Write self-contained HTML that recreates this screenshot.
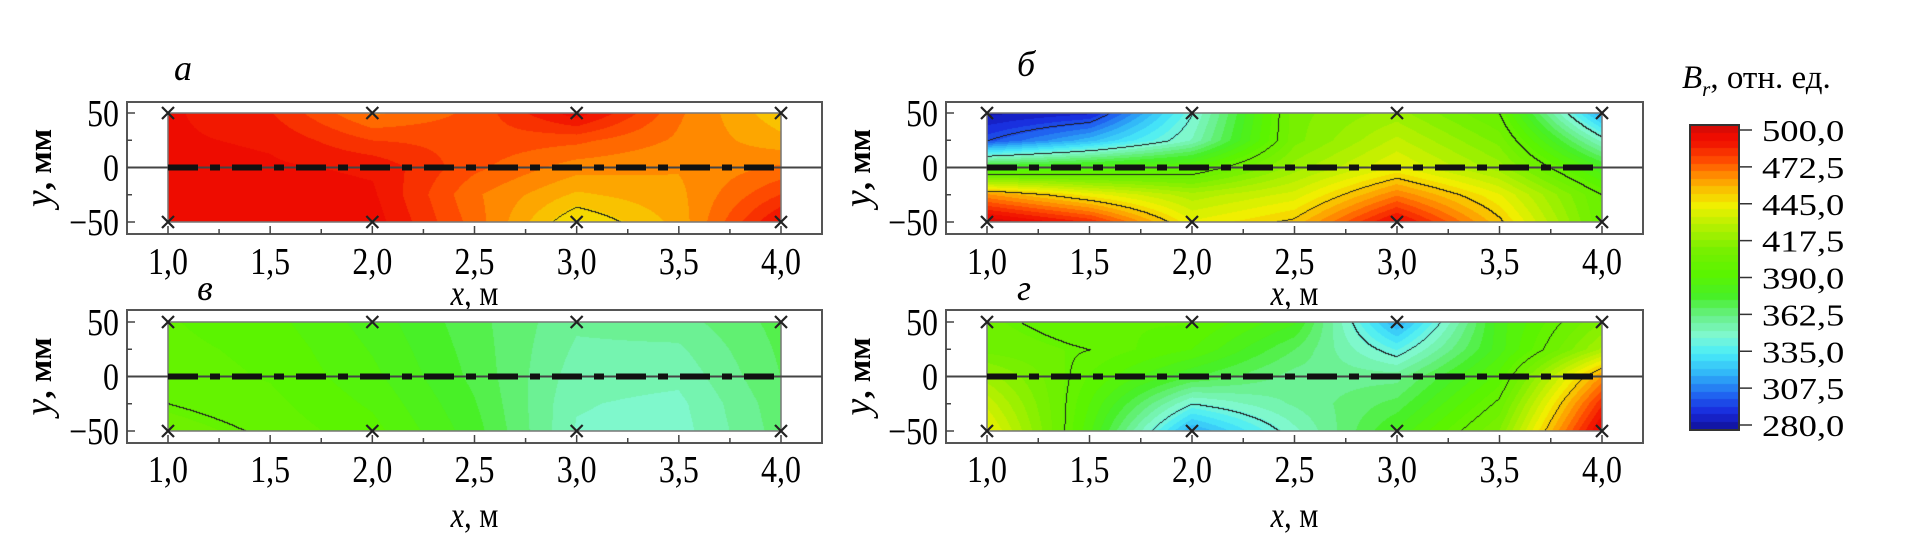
<!DOCTYPE html>
<html><head><meta charset="utf-8"><style>
html,body{margin:0;padding:0;background:#fff;}
#root{position:relative;width:1910px;height:551px;overflow:hidden;font-family:"Liberation Serif",serif;}
canvas{position:absolute;}
svg{position:absolute;left:0;top:0;}
</style></head><body>
<div id="root">
<canvas id="cA"></canvas>
<canvas id="cB"></canvas>
<canvas id="cV"></canvas>
<canvas id="cG"></canvas>
<canvas id="cBar"></canvas>
<svg id="ov" width="1910" height="551"></svg>
</div>
<script>
const xs = [1, 1.5, 2, 2.5, 3, 3.5, 4];
const ys = [50, 25, 0, -25, -50];
const xTicks = ["1,0","1,5","2,0","2,5","3,0","3,5","4,0"];
const yTicks = ["50","0","−50"];
const cbTicks = ["500,0","472,5","445,0","417,5","390,0","362,5","335,0","307,5","280,0"];
const contourLevels = [300, 345, 400, 450];
const fieldA = [
 [490,484,466,474,492,468,452],
 [490,488,478,476,474,466,458],
 [492,490,488,474,464,462,468],
 [492,492,490,468,455,460,478],
 [492,492,492,470,444,458,490]];
const fieldB = [
 [284,290,345,410,420,400,318],
 [300,322,352,410,430,410,350],
 [380,386,392,420,440,420,380],
 [462,442,425,436,466,440,400],
 [500,482,440,452,492,452,402]];
const fieldV = [
 [396,392,382,370,358,360,370],
 [397,394,384,371,356,356,369],
 [398,395,386,372,354,353,368],
 [400,397,389,374,352,350,366],
 [403,399,392,376,351,349,365]];
const fieldG = [
 [402,396,396,380,318,382,412],
 [404,400,390,368,340,382,424],
 [420,395,374,360,360,392,462],
 [432,390,345,358,370,402,482],
 [442,386,318,350,380,412,497]];

const stops=[[280,[16,16,150]],[292,[24,40,220]],[305,[32,100,240]],[320,[48,180,248]],[335,[72,236,248]],[348,[128,248,208]],[362,[104,240,136]],[376,[72,240,40]],[392,[90,244,0]],[410,[120,240,0]],[428,[184,240,0]],[442,[240,240,0]],[452,[248,200,0]],[462,[255,150,0]],[474,[255,80,0]],[488,[240,16,0]],[496,[236,8,0]],[500,[176,16,16]]];
function cmap(v){v=Math.max(280,Math.min(500,v));for(let i=1;i<stops.length;i++){if(v<=stops[i][0]){const a=stops[i-1],b=stops[i];const t=(v-a[0])/(b[0]-a[0]);return a[1].map((c,k)=>Math.round(c+(b[1][k]-c)*t));}}return stops[stops.length-1][1];}
function interp(f,x,y){
 let i=0;while(i<xs.length-2&&x>xs[i+1])i++;
 let j=0;while(j<ys.length-2&&y<ys[j+1])j++;
 const tx=(x-xs[i])/(xs[i+1]-xs[i]),ty=(y-ys[j])/(ys[j+1]-ys[j]);
 const a=f[j][i],b=f[j][i+1],c=f[j+1][i],d=f[j+1][i+1];
 return a*(1-tx)*(1-ty)+b*tx*(1-ty)+c*(1-tx)*ty+d*tx*ty;}
function levelOf(v){let n=0;for(const c of contourLevels)if(v>=c)n++;return n;}
function drawField(id,f,L,R,T,B){
 const cv=document.getElementById(id);const w=R-L,h=B-T;
 cv.width=w;cv.height=h;cv.style.left=L+'px';cv.style.top=T+'px';
 const ctx=cv.getContext('2d');const img=ctx.createImageData(w,h);
 const q=[],lv=[];
 for(let py=0;py<h;py++)for(let px=0;px<w;px++){
  const x=1+3*px/(w-1),y=50-100*py/(h-1);const v=interp(f,x,y);
  const qv=Math.floor((v-280)/5.5)*5.5+282.75;q.push(qv);lv.push(levelOf(v));}
 for(let py=0;py<h;py++)for(let px=0;px<w;px++){
  const k=py*w+px;let col=cmap(q[k]);
  if((px>0&&lv[k-1]!==lv[k])||(py>0&&lv[k-w]!==lv[k]))col=[30,30,30];
  img.data[k*4]=col[0];img.data[k*4+1]=col[1];img.data[k*4+2]=col[2];img.data[k*4+3]=255;}
 ctx.putImageData(img,0,0);}
(function(){const cv=document.getElementById('cBar');const L=1690,R=1739,T=125,B=430;cv.width=R-L;cv.height=B-T;cv.style.left=L+'px';cv.style.top=T+'px';
 const ctx=cv.getContext('2d');for(let py=0;py<B-T;py++){const v=500-220*py/(B-T-1);const qv=Math.floor((v-280)/5.5)*5.5+282.75;const c=cmap(qv);ctx.fillStyle=`rgb(${c})`;ctx.fillRect(0,py,R-L,1);}})();

const NS='http://www.w3.org/2000/svg';const ov=document.getElementById('ov');
function el(t,a,txt){const e=document.createElementNS(NS,t);for(const k in a)e.setAttribute(k,a[k]);if(txt!==undefined)e.textContent=txt;ov.appendChild(e);return e;}
function stext(x,y,size,sx,anchor,txt){return el('text',{x:0,y:0,'font-size':size,'text-anchor':anchor,transform:`translate(${x} ${y}) scale(${sx} 1)`},txt);}
const panels=[
 {id:'cA',f:fieldA,fl:127,fr:822,ft:102,fb:234,dl:168,dr:781,y50:113,ym50:222,lab:'а',lx:183,ly:80,tky:274,tty:305,name:'panel-a'},
 {id:'cB',f:fieldB,fl:946,fr:1643,ft:102,fb:234,dl:987,dr:1602,y50:113,ym50:222,lab:'б',lx:1026,ly:76,tky:274,tty:305,name:'panel-b'},
 {id:'cV',f:fieldV,fl:127,fr:822,ft:310,fb:443,dl:168,dr:781,y50:322,ym50:431,lab:'в',lx:205,ly:300,tky:482,tty:527,name:'panel-v'},
 {id:'cG',f:fieldG,fl:946,fr:1643,ft:310,fb:443,dl:987,dr:1602,y50:322,ym50:431,lab:'г',lx:1024,ly:300,tky:482,tty:527,name:'panel-g'}];
panels.forEach(p=>{
 drawField(p.id,p.f,p.dl,p.dr,p.y50,p.ym50);
 const sx=x=>p.dl+(x-1)*(p.dr-p.dl)/3, sy=y=>p.y50+(50-y)*(p.ym50-p.y50)/100;
 let e=el('rect',{x:p.fl,y:p.ft,width:p.fr-p.fl,height:p.fb-p.ft,fill:'none',stroke:'#555','stroke-width':2});
 
 
 el('rect',{x:p.dl,y:p.y50,width:p.dr-p.dl,height:p.ym50-p.y50,fill:'none',stroke:'#777','stroke-width':1.5});
 el('line',{x1:p.fl,x2:p.fr,y1:sy(0),y2:sy(0),stroke:'#444','stroke-width':2});
 e=el('line',{x1:p.dl,x2:p.dr,y1:sy(0),y2:sy(0),stroke:'#111','stroke-width':6,'stroke-dasharray':'30,12,10,12'});
 
 
 for(let x=0.75;x<=4.26;x+=0.25){if(sx(x)<p.fl||sx(x)>p.fr)continue;const maj=Math.abs(x*2-Math.round(x*2))<1e-6;el('line',{x1:sx(x),x2:sx(x),y1:p.fb,y2:p.fb-(maj?8:5),stroke:'#444','stroke-width':1.5});}
 for(let y=-50;y<=50;y+=25){const maj=y%50===0;el('line',{x1:p.fl,x2:p.fl+(maj?8:5),y1:sy(y),y2:sy(y),stroke:'#444','stroke-width':1.5});}
 xs.forEach((x,i)=>{const t=stext(sx(x),p.tky,38,0.84,'middle',xTicks[i]);
  
  });
 [50,0,-50].forEach((y,i)=>{const t=stext(p.fl-8,sy(y)+13,38,0.84,'end',yTicks[i]);
  
  });
 [1,2,3,4].forEach(x=>[50,-50].forEach(y=>{const cx=sx(x),cy=sy(y);el('path',{d:`M${cx-6},${cy-6}L${cx+6},${cy+6}M${cx+6},${cy-6}L${cx-6},${cy+6}`,stroke:'#222','stroke-width':2.2});}));
 let t=stext((p.fl+p.fr)/2,p.tty,36,0.84,'middle');
 t.innerHTML='<tspan font-style="italic">x</tspan>, м';
 
 
 const tx=p.fl-76,ty=(p.ft+p.fb)/2;
 t=el('text',{x:tx,y:ty,'text-anchor':'middle','font-size':33,'font-weight':'bold',transform:`rotate(-90 ${tx} ${ty})`});
 t.innerHTML='<tspan font-style="italic" font-weight="normal" font-size="38">y</tspan>,  мм';
 
 
 t=el('text',{x:p.lx,y:p.ly,'text-anchor':'middle','font-size':36,'font-style':'italic'},p.lab);
 
 
});
el('rect',{x:1690,y:125,width:49,height:305,fill:'none',stroke:'#333','stroke-width':2});
cbTicks.forEach((s,i)=>{const y=130+i*(425-130)/8;el('line',{x1:1739,x2:1752,y1:y,y2:y,stroke:'#333','stroke-width':1.5});
 const t=stext(1762,y+11,31,1.18,'start',s);
 
 });
const ct=el('text',{x:1682,y:88,'font-size':33});
ct.innerHTML='<tspan font-style="italic">B</tspan><tspan font-style="italic" font-size="21" dy="8">r</tspan><tspan dy="-8">, отн. ед.</tspan>';


</script>
</body></html>
